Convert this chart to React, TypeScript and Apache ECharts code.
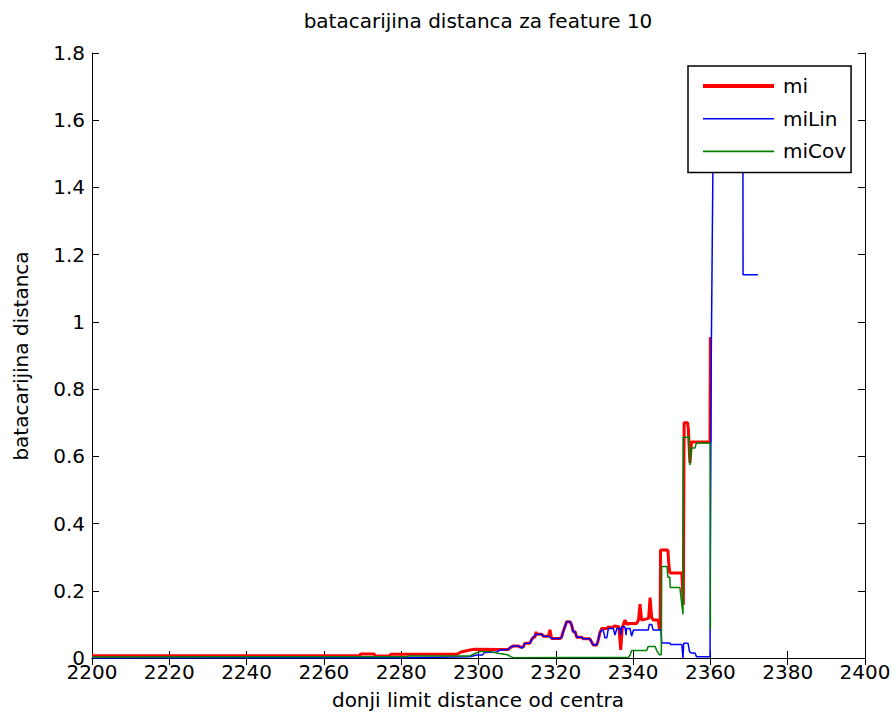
import React, { useEffect, useRef } from "react";
import * as echarts from "echarts";

const xTicks = { min: 2200, max: 2400, interval: 20 };
const yTicks = { min: 0, max: 1.8, interval: 0.2 };

const titleText = "batacarijina distanca za feature 10";
const xLabelText = "donji limit distance od centra";
const yLabelText = "batacarijina distanca";

const seriesNames = ["mi", "miLin", "miCov"];

const miData: [number, number][] = [
  [2200, 0.007], [2269.3, 0.007], [2269.5, 0.012], [2273, 0.012], [2273.3, 0.006],
  [2277, 0.006], [2277.3, 0.011], [2294.4, 0.011], [2295.5, 0.018], [2297.8, 0.024],
  [2299, 0.026], [2305.6, 0.025], [2307.7, 0.025], [2308.1, 0.03], [2309.0, 0.036],
  [2310.3, 0.036], [2310.7, 0.033], [2311.6, 0.033], [2312.0, 0.044], [2313.3, 0.044],
  [2313.7, 0.054], [2314.2, 0.062], [2314.6, 0.062], [2314.9, 0.078], [2315.0, 0.071],
  [2316.3, 0.071], [2316.8, 0.065], [2318.1, 0.065], [2318.5, 0.084], [2318.9, 0.058],
  [2321.1, 0.058], [2321.5, 0.062], [2321.9, 0.078], [2322.8, 0.108], [2323.7, 0.108],
  [2324.1, 0.098], [2324.5, 0.078], [2325.0, 0.078], [2325.4, 0.062], [2326.7, 0.062],
  [2327.1, 0.057], [2328.8, 0.057], [2329.7, 0.039], [2330.6, 0.039], [2331.0, 0.054],
  [2331.4, 0.075], [2331.9, 0.088], [2333.2, 0.088], [2333.6, 0.092], [2334.5, 0.09],
  [2335.2, 0.095], [2336.3, 0.093], [2336.8, 0.024], [2337.2, 0.09], [2337.9, 0.113],
  [2338.4, 0.1], [2339.0, 0.103], [2340.9, 0.103], [2341.4, 0.113], [2341.8, 0.16],
  [2342.2, 0.113], [2343.0, 0.115], [2344.0, 0.118], [2344.4, 0.18], [2344.8, 0.12],
  [2345.2, 0.113], [2346.5, 0.113], [2346.8, 0.088], [2347.0, 0.088], [2347.1, 0.321],
  [2349.0, 0.321], [2349.2, 0.285], [2349.5, 0.253], [2352.6, 0.253], [2353.0, 0.158],
  [2353.2, 0.7], [2354.1, 0.7], [2354.3, 0.68], [2354.7, 0.58], [2355.1, 0.643],
  [2359.9, 0.643], [2360.0, 0.955],
];

const miLinData: [number, number][] = [
  [2200, 0], [2281.5, 0.001], [2297.8, 0.004], [2299.5, 0.009], [2301, 0.009],
  [2301.5, 0.016], [2304.8, 0.018], [2305.6, 0.024], [2307.7, 0.025], [2308.1, 0.03],
  [2309.0, 0.036], [2310.3, 0.036], [2310.7, 0.033], [2311.2, 0.029], [2311.6, 0.033],
  [2312.0, 0.044], [2313.3, 0.044], [2313.7, 0.054], [2314.2, 0.062], [2315.0, 0.071],
  [2316.3, 0.071], [2316.8, 0.065], [2318.1, 0.065], [2318.9, 0.058], [2321.1, 0.058],
  [2321.5, 0.062], [2321.9, 0.078], [2322.8, 0.108], [2323.7, 0.108], [2324.1, 0.098],
  [2324.5, 0.078], [2325.0, 0.078], [2325.4, 0.062], [2326.7, 0.062], [2327.1, 0.057],
  [2328.8, 0.057], [2329.7, 0.039], [2330.6, 0.039], [2331.0, 0.054], [2331.4, 0.075],
  [2331.9, 0.083], [2332.3, 0.083], [2332.7, 0.06], [2333.2, 0.06], [2333.6, 0.088],
  [2334.9, 0.088], [2335.3, 0.068], [2335.8, 0.088], [2336.6, 0.088], [2336.8, 0.068],
  [2337.0, 0.092], [2337.9, 0.092], [2338.2, 0.068], [2338.3, 0.088], [2339.2, 0.088],
  [2339.6, 0.065], [2340.1, 0.083], [2343.9, 0.083], [2344.2, 0.1], [2344.8, 0.1],
  [2345.2, 0.083], [2347.2, 0.083], [2347.4, 0.045], [2349.5, 0.045], [2349.7, 0.04],
  [2352.6, 0.04], [2352.9, 0], [2353.1, 0.044], [2354.2, 0.044], [2354.6, 0.019],
  [2355.0, 0.015], [2356.0, 0.015], [2356.4, 0.004], [2359.9, 0.004], [2360.2, 0.87],
  [2360.8, 1.65], [2368.4, 1.65], [2368.45, 1.14], [2372.3, 1.14],
];

const miCovData: [number, number][] = [
  [2200, 0.003], [2281.5, 0.004], [2281.8, 0.006], [2297.8, 0.006], [2299.1, 0.014],
  [2300.4, 0.019], [2303, 0.019], [2305, 0.014], [2307.5, 0.01], [2308.3, 0.004],
  [2309, 0.001], [2338.8, 0.002], [2339.2, 0.008], [2339.6, 0.022], [2343.5, 0.022],
  [2343.9, 0.034], [2345.7, 0.034], [2346.1, 0.022], [2346.8, 0.01], [2347.3, 0.01],
  [2347.4, 0.272], [2348.8, 0.272], [2349.0, 0.24], [2349.5, 0.24], [2349.6, 0.21],
  [2352.1, 0.21], [2352.9, 0.13], [2353.0, 0.657], [2354.5, 0.657], [2354.7, 0.574],
  [2355.1, 0.625], [2356.0, 0.625], [2356.4, 0.64], [2359.9, 0.64], [2360.0, 0.085],
];

const FONT = "DejaVu Sans";

export default function App() {
  const ref = useRef<HTMLDivElement>(null);
  useEffect(() => {
    if (!ref.current) return;
    const chart = echarts.init(ref.current, undefined, { renderer: "svg" });
    const axisLine = { show: true, lineStyle: { color: "#000", width: 1 } };
    const tick = { show: true, inside: true, length: 7, lineStyle: { color: "#000", width: 1 } };
    const grid = { left: 92, right: 31, top: 53, bottom: 60, containLabel: false };
    chart.setOption({
      animation: false,
      backgroundColor: "#fff",
      grid,
      xAxis: [
        {
          type: "value", ...xTicks, position: "bottom",
          axisLine, axisTick: tick, splitLine: { show: false },
          axisLabel: {
            color: "#000", fontSize: 20, fontFamily: FONT, margin: 4,
            formatter: (v: number) => String(v),
          },
        },
        {
          type: "value", ...xTicks, position: "top",
          axisLine, axisTick: tick, splitLine: { show: false }, axisLabel: { show: false },
        },
      ],
      yAxis: [
        {
          type: "value", ...yTicks, position: "left",
          axisLine, axisTick: tick, splitLine: { show: false },
          axisLabel: {
            color: "#000", fontSize: 20, fontFamily: FONT, margin: 7,
            formatter: (v: number) => String(Math.round(v * 10) / 10),
          },
        },
        {
          type: "value", ...yTicks, position: "right",
          axisLine, axisTick: tick, splitLine: { show: false }, axisLabel: { show: false },
        },
      ],
      legend: {
        orient: "vertical",
        left: 688,
        top: 66,
        padding: [10, 5, 11, 15],
        itemGap: 12.7,
        itemWidth: 71,
        itemHeight: 14,
        backgroundColor: "#fff",
        borderColor: "#000",
        borderWidth: 1.5,
        borderRadius: 0,
        textStyle: { color: "#000", fontSize: 20, fontFamily: FONT, padding: [0, 0, 0, 4] },
        data: [
          { name: seriesNames[0], icon: "path://M0,0H71V4H0Z" },
          { name: seriesNames[1], icon: "path://M0,0H71V1.6H0Z" },
          { name: seriesNames[2], icon: "path://M0,0H71V1.6H0Z" },
        ],
      },
      graphic: [
        {
          type: "text", x: 478, y: 21,
          style: { text: titleText, fill: "#000", fontSize: 20, fontFamily: FONT, textAlign: "center", textVerticalAlign: "middle" },
        },
        {
          type: "text", x: 478, y: 700,
          style: { text: xLabelText, fill: "#000", fontSize: 20, fontFamily: FONT, textAlign: "center", textVerticalAlign: "middle" },
        },
        {
          type: "text", x: 21, y: 356, rotation: Math.PI / 2,
          style: { text: yLabelText, fill: "#000", fontSize: 20, fontFamily: FONT, textAlign: "center", textVerticalAlign: "middle" },
        },
      ],
      series: [
        {
          name: seriesNames[0], type: "line", data: miData, symbol: "none", clip: true,
          lineStyle: { color: "#ff0000", width: 3 }, itemStyle: { color: "#ff0000" },
        },
        {
          name: seriesNames[1], type: "line", data: miLinData, symbol: "none", clip: true,
          lineStyle: { color: "#0000ff", width: 1.5 }, itemStyle: { color: "#0000ff" },
        },
        {
          name: seriesNames[2], type: "line", data: miCovData, symbol: "none", clip: true,
          lineStyle: { color: "#008000", width: 1.5 }, itemStyle: { color: "#008000" },
        },
      ],
    });
    return () => chart.dispose();
  }, []);
  return (
    <div
      ref={ref}
      style={{ position: "fixed", left: 0, top: 0, width: 896, height: 718, background: "#fff" }}
    />
  );
}
